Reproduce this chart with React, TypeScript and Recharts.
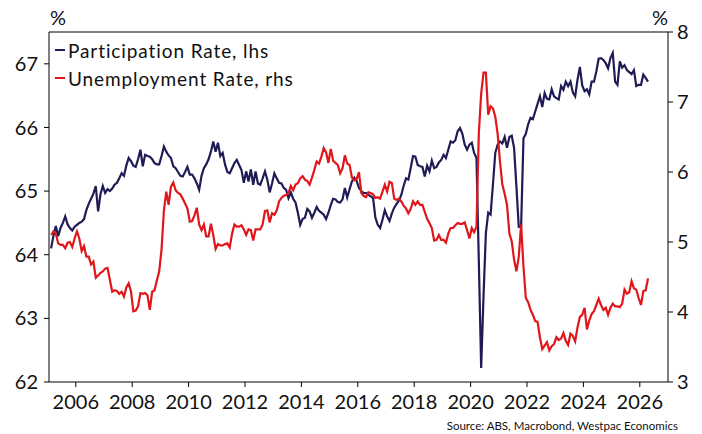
import React from 'react';
import { LineChart, Line, XAxis, YAxis, ReferenceLine } from 'recharts';

const FONT = 'Lato, "Noto Sans", sans-serif';
const NAVY = '#1f1c55';
const RED = '#e0161b';

// Monthly series, first value = Feb 2005, last value = Apr 2026
const startYear = 2005;
const startMonth = 2;

const participationRate = [
  64.10, 64.30, 64.45, 64.29, 64.42, 64.50, 64.60, 64.48, 64.42, 64.38, 64.44, // 2005
  64.47, 64.50, 64.52, 64.56, 64.70, 64.80, 64.88, 64.96, 65.08, 64.68, 64.95, 65.08, // 2006
  64.97, 65.03, 65.00, 65.04, 65.10, 65.13, 65.20, 65.28, 65.24, 65.40, 65.52, 65.47, // 2007
  65.40, 65.38, 65.50, 65.65, 65.39, 65.57, 65.55, 65.54, 65.50, 65.44, 65.42, 65.42, // 2008
  65.55, 65.70, 65.62, 65.56, 65.52, 65.39, 65.36, 65.30, 65.24, 65.23, 65.30, 65.38, // 2009
  65.26, 65.26, 65.20, 65.12, 65.02, 65.24, 65.36, 65.42, 65.50, 65.62, 65.78, 65.62, // 2010
  65.76, 65.55, 65.60, 65.42, 65.30, 65.28, 65.36, 65.44, 65.49, 65.41, 65.33, 65.13, // 2011
  65.31, 65.15, 65.34, 65.10, 65.31, 65.12, 65.10, 65.20, 65.31, 65.18, 64.98, 65.12, // 2012
  65.28, 65.20, 65.13, 65.12, 65.05, 65.02, 64.89, 64.98, 64.88, 64.82, 64.66, 64.47, // 2013
  64.56, 64.58, 64.72, 64.68, 64.58, 64.66, 64.75, 64.69, 64.66, 64.63, 64.56, 64.66, // 2014
  64.78, 64.88, 64.87, 64.83, 64.82, 64.87, 65.05, 64.90, 65.03, 65.15, 65.21, 65.16, // 2015
  65.05, 65.00, 64.97, 64.97, 64.94, 64.92, 64.89, 64.58, 64.47, 64.42, 64.55, 64.70, // 2016
  64.60, 64.53, 64.65, 64.74, 64.80, 64.85, 64.94, 65.08, 65.20, 65.18, 65.36, 65.55, // 2017
  65.54, 65.41, 65.39, 65.38, 65.23, 65.40, 65.31, 65.48, 65.36, 65.38, 65.45, 65.49, // 2018
  65.57, 65.52, 65.65, 65.78, 65.76, 65.80, 65.94, 65.99, 65.90, 65.73, 65.65, 65.73, // 2019
  65.76, 65.60, 65.52, 63.90, 62.22, 63.35, 64.34, 64.66, 64.63, 65.10, 65.60, 65.73, // 2020
  65.78, 65.75, 65.85, 65.68, 65.85, 65.87, 65.68, 65.07, 64.44, 64.45, 65.83, 65.90, // 2021
  66.05, 66.15, 66.13, 66.25, 66.37, 66.49, 66.32, 66.54, 66.45, 66.44, 66.60, 66.49, // 2022
  66.46, 66.44, 66.65, 66.59, 66.72, 66.65, 66.72, 66.55, 66.49, 66.75, 66.95, 66.66, // 2023
  66.57, 66.60, 66.52, 66.72, 66.72, 66.88, 67.08, 67.09, 67.06, 67.01, 66.93, 67.09, // 2024
  67.17, 66.72, 66.67, 67.04, 66.94, 66.98, 66.90, 66.87, 66.84, 66.90, 66.65, 66.67, // 2025
  66.67, 66.83, 66.78, 66.72, // 2026
];

const unemploymentRate = [
  5.10, 5.15, 5.12, 4.98, 4.96, 4.96, 4.91, 4.99, 5.00, 4.93, 5.05, // 2005
  5.15, 5.05, 4.87, 4.94, 4.79, 4.79, 4.68, 4.72, 4.49, 4.52, 4.56, 4.58, // 2006
  4.62, 4.63, 4.46, 4.29, 4.31, 4.30, 4.26, 4.29, 4.22, 4.35, 4.41, 4.29, // 2007
  4.01, 4.02, 4.08, 4.27, 4.26, 4.27, 4.24, 4.03, 4.29, 4.31, 4.45, 4.58, // 2008
  4.90, 5.45, 5.72, 5.53, 5.79, 5.85, 5.74, 5.70, 5.68, 5.62, 5.55, 5.48, // 2009
  5.29, 5.30, 5.38, 5.49, 5.25, 5.17, 5.25, 5.08, 5.08, 5.26, 5.10, 4.90, // 2010
  4.97, 4.95, 4.95, 4.97, 4.98, 4.92, 5.12, 5.25, 5.22, 5.22, 5.24, 5.18, // 2011
  5.10, 5.18, 5.17, 5.02, 5.18, 5.18, 5.18, 5.25, 5.44, 5.45, 5.28, 5.41, // 2012
  5.39, 5.45, 5.58, 5.63, 5.66, 5.67, 5.70, 5.80, 5.74, 5.82, 5.84, 5.91, // 2013
  5.94, 5.89, 5.87, 5.82, 5.92, 6.03, 6.15, 6.12, 6.22, 6.34, 6.28, 6.13, // 2014
  6.33, 6.16, 6.13, 6.10, 5.98, 6.05, 6.24, 6.12, 6.10, 5.92, 5.88, 5.90, // 2015
  6.00, 5.70, 5.66, 5.64, 5.71, 5.70, 5.68, 5.63, 5.64, 5.62, 5.72, 5.82, // 2016
  5.72, 5.86, 5.84, 5.62, 5.60, 5.62, 5.58, 5.52, 5.48, 5.41, 5.47, 5.58, // 2017
  5.53, 5.58, 5.53, 5.53, 5.43, 5.33, 5.27, 5.20, 5.02, 5.03, 5.10, 5.03, // 2018
  5.03, 4.99, 5.12, 5.20, 5.20, 5.24, 5.27, 5.26, 5.26, 5.28, 5.17, 5.05, // 2019
  5.20, 5.14, 5.22, 6.55, 7.12, 7.42, 7.42, 6.82, 6.94, 6.91, 6.79, 6.55, // 2020
  6.15, 5.82, 5.69, 5.53, 5.12, 5.01, 4.75, 4.58, 4.79, 5.25, 4.65, 4.20, // 2021
  4.14, 4.03, 3.96, 3.87, 3.86, 3.64, 3.47, 3.52, 3.57, 3.45, 3.51, 3.54, // 2022
  3.64, 3.60, 3.62, 3.70, 3.59, 3.53, 3.69, 3.66, 3.58, 3.78, 3.93, 3.96, // 2023
  4.06, 3.75, 3.88, 3.97, 4.01, 4.10, 4.19, 4.10, 4.03, 4.06, 3.96, 4.06, // 2024
  4.12, 4.08, 4.08, 4.07, 4.12, 4.32, 4.26, 4.28, 4.44, 4.34, 4.32, 4.20, // 2025
  4.10, 4.30, 4.31, 4.48, // 2026
];

const xTicks = [2006, 2008, 2010, 2012, 2014, 2016, 2018, 2020, 2022, 2024, 2026];
const leftTicks = [62, 63, 64, 65, 66, 67];
const rightTicks = [3, 4, 5, 6, 7, 8];

const seriesNames = ['Participation Rate, lhs', 'Unemployment Rate, rhs'];
const seriesColors = [NAVY, RED];
const sourceText = 'Source: ABS, Macrobond, Westpac Economics';

const rows = participationRate.map((v, i) => ({
  t: startYear + (startMonth - 1 + i + 0.5) / 12,
  pr: v,
  ur: unemploymentRate[i],
}));

const tickStyle = { fontSize: 20, fill: '#111', fontFamily: FONT };

export default function App() {
  return (
    <div
      style={{
        position: 'absolute',
        left: 0,
        top: 0,
        width: 702,
        height: 434,
        background: '#fff',
        fontFamily: FONT,
        color: '#111',
      }}
    >
      <LineChart width={702} height={434} data={rows} margin={{ top: 32, right: 0, bottom: 0, left: 0 }}>
        <XAxis
          dataKey="t"
          type="number"
          domain={[2005.05, 2027]}
          ticks={xTicks}
          interval={0}
          tickFormatter={(v: number) => String(Math.round(v))}
          stroke="#000"
          tick={tickStyle}
          tickSize={5}
          tickMargin={8}
          height={52}
        />
        <YAxis
          yAxisId="left"
          domain={[62, 67.5]}
          ticks={leftTicks}
          interval={0}
          width={49}
          stroke="#000"
          tick={tickStyle}
          tickSize={5}
          tickMargin={6}
        />
        <YAxis
          yAxisId="right"
          orientation="right"
          domain={[3, 8]}
          ticks={rightTicks}
          interval={0}
          width={34}
          stroke="#000"
          tick={tickStyle}
          tickSize={5}
          tickMargin={4}
        />
        <ReferenceLine yAxisId="left" y={67.5} stroke="#000" strokeWidth={1} />
        <Line
          yAxisId="left"
          dataKey="pr"
          stroke={NAVY}
          strokeWidth={2.2}
          dot={false}
          isAnimationActive={false}
        />
        <Line
          yAxisId="right"
          dataKey="ur"
          stroke={RED}
          strokeWidth={2.2}
          dot={false}
          isAnimationActive={false}
        />
      </LineChart>

      <div style={{ position: 'absolute', left: 50, top: 4, fontSize: 20, lineHeight: '26px' }}>%</div>
      <div style={{ position: 'absolute', right: 34, top: 4, fontSize: 20, lineHeight: '26px' }}>%</div>

      <div style={{ position: 'absolute', left: 55, top: 36 }}>
        {seriesNames.map((name, i) => (
          <div
            key={name}
            style={{ display: 'flex', alignItems: 'center', height: 28, fontSize: 19, letterSpacing: 0.9 }}
          >
            <span
              style={{
                display: 'inline-block',
                width: 10,
                height: 2.5,
                background: seriesColors[i],
                marginRight: 3,
              }}
            />
            <span>{name}</span>
          </div>
        ))}
      </div>

      <div
        style={{
          position: 'absolute',
          right: 24,
          top: 418,
          fontSize: 11.5,
          lineHeight: '16px',
          whiteSpace: 'nowrap',
        }}
      >
        {sourceText}
      </div>
    </div>
  );
}
